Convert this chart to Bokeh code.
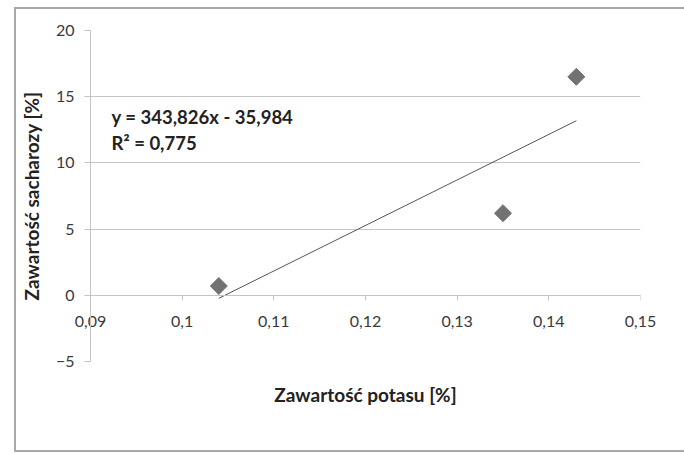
from bokeh.plotting import figure
from bokeh.models import (Range1d, FixedTicker, CustomJSTickFormatter, Label, LinearAxis)
from bokeh.embed import file_html
from bokeh.resources import INLINE
import math

# ---- data ----
potas = [0.104, 0.135, 0.143]          # Zawartość potasu [%]
sacharoza = [0.7, 6.2, 16.5]           # Zawartość sacharozy [%]
trend_slope = 343.826
trend_intercept = -35.984
trend_r2 = 0.775
x_ticks = [0.09, 0.10, 0.11, 0.12, 0.13, 0.14, 0.15]
y_ticks = [-5, 0, 5, 10, 15, 20]
x_title = "Zawartość potasu [%]"
y_title = "Zawartość sacharozy [%]"
eq_line1 = "y = 343,826x - 35,984"
eq_line2 = "R² = 0,775"

FONT = "Lato"
GRID = "#c4c4c4"
TXT = "#3a3a3a"
TITLE = "#222222"

p = figure(width=668, height=445, frame_width=550, frame_height=331,
           x_range=Range1d(0.09, 0.15), y_range=Range1d(-5, 20),
           output_backend="svg", toolbar_location=None,
           min_border_left=71, min_border_right=45, min_border_top=21,
           min_border_bottom=89)
p.margin = (7, 0, 0, 14)
p.styles = {"border": "2px solid #a9a9a9", "box-sizing": "border-box"}
p.outline_line_color = None
p.background_fill_color = "white"
p.border_fill_color = "white"

# grid
p.xgrid.visible = False
p.ygrid.ticker = FixedTicker(ticks=y_ticks)
p.ygrid.grid_line_color = GRID
p.ygrid.grid_line_width = 1

# y axis
p.yaxis.ticker = FixedTicker(ticks=y_ticks)
p.yaxis.axis_line_color = GRID
p.yaxis.major_tick_line_color = GRID
p.yaxis.major_tick_out = 6
p.yaxis.major_tick_in = 0
p.yaxis.minor_tick_line_color = None
p.yaxis.major_label_standoff = 10
p.yaxis.major_label_text_font = FONT
p.yaxis.major_label_text_font_size = "16px"
p.yaxis.major_label_text_color = TXT
p.yaxis.axis_label = y_title
p.yaxis.axis_label_text_font = FONT
p.yaxis.axis_label_text_font_style = "bold"
p.yaxis.axis_label_text_font_size = "19px"
p.yaxis.axis_label_text_color = TITLE
p.yaxis.axis_label_standoff = 10

fmt = CustomJSTickFormatter(
    code="return tick.toFixed(2).replace(/0$/, '').replace('.', ',');")

# bottom axis: only tick labels (shifted up to sit under the y = 0 line) and title
xb = p.xaxis[0]
xb.ticker = FixedTicker(ticks=x_ticks)
xb.formatter = fmt
xb.axis_line_color = None
xb.major_tick_line_color = None
xb.minor_tick_line_color = None
xb.major_tick_out = 0
xb.major_tick_in = 0
xb.major_label_standoff = -46
xb.major_label_text_font = FONT
xb.major_label_text_font_size = "16px"
xb.major_label_text_color = TXT
xb.axis_label = x_title
xb.axis_label_text_font = FONT
xb.axis_label_text_font_style = "bold"
xb.axis_label_text_font_size = "19px"
xb.axis_label_text_color = TITLE
xb.axis_label_standoff = 53

# axis line crossing at y = 0 with ticks
xa = LinearAxis(fixed_location=0, ticker=FixedTicker(ticks=x_ticks),
                axis_line_color=GRID, major_tick_line_color=GRID,
                major_tick_out=5, major_tick_in=0, minor_tick_line_color=None,
                major_label_text_color=None)
xa.formatter = fmt
p.add_layout(xa, "below")

# trendline
tx = [min(potas), max(potas)]
ty = [trend_slope * v + trend_intercept for v in tx]
p.line(tx, ty, line_color="#555555", line_width=1)

# points
p.scatter(potas, sacharoza, marker="square", angle=math.pi / 4, size=12,
          fill_color="#727272", line_color="#727272")

# equation labels
for txt, yy in ((eq_line1, 13.45), (eq_line2, 11.5)):
    p.add_layout(Label(x=0.0923, y=yy, text=txt, text_font=FONT,
                       text_font_style="bold", text_font_size="18.5px",
                       text_color=TITLE, text_baseline="middle"))

open("out.html", "w").write(file_html(p, INLINE))
